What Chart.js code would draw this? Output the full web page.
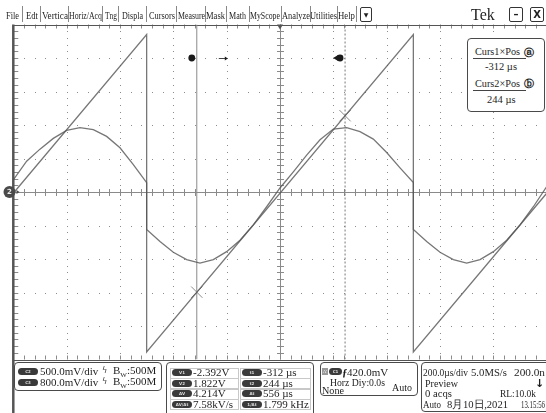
<!DOCTYPE html>
<html>
<head>
<meta charset="utf-8">
<script src="https://cdn.jsdelivr.net/npm/chart.js@4.4.1/dist/chart.umd.min.js"></script>
<style>
html, body { margin: 0; padding: 0; background: #fff; }
body { width: 546px; height: 413px; overflow: hidden; position: relative;
       font-family: "Liberation Serif", "DejaVu Serif", serif; color: #1e1e1e; }
#wrap { position: absolute; left: 0; top: 0; width: 560px; height: 413px; }
.t { position: absolute; white-space: nowrap; line-height: 1; font-size: 11px; transform-origin: 0 50%; }
.sep { position: absolute; top: 6px; width: 1px; height: 16px; background: #888; }
.box { position: absolute; border: 1px solid #4a4a4a; border-radius: 4px; background: #fff; }
.cell { position: absolute; border: 1px solid #c8c8c8; }
.badge { position: absolute; height: 7px; border-radius: 4px; background: #3a3a3a; color: #ddd;
         font: bold 4px "DejaVu Sans", sans-serif; text-align: center; line-height: 7px; }
.btn { position: absolute; top: 7px; height: 13px; border: 1px solid #333; border-radius: 2px;
       font: bold 10px "DejaVu Sans", sans-serif; text-align: center; line-height: 13px; }
.hr { position: absolute; height: 1px; background: #444; }
</style>
</head>
<body>
<div id="wrap"><canvas id="scope" width="560" height="413"></canvas></div>
<div id="ui"></div>
<script>
// ---------- data ----------
// time in microseconds, 200 us/div, 10 divisions
const timeRange = [-1000, 1000];
// C3 sawtooth (800 mV/div), volts
const sawTime = [-1000, -500, -500, 500, 500, 1000];
const sawVolt = [-0.03, 3.76, -3.82, 3.76, -3.82, -0.03];
// C2 distorted sine (500 mV/div), volts
const sineTime = [-1000, -950, -900, -850, -800, -750, -700, -650, -600, -550, -500,
                  -500, -450, -400, -350, -300, -250, -200, -150, -100, -50,
                  0, 50, 100, 150, 200, 250, 300, 350, 400, 450, 500,
                  500, 550, 600, 650, 700, 750, 800, 850, 900, 950, 1000];
const sineVolt = [0.18, 0.46, 0.64, 0.80, 0.92, 0.96, 0.93, 0.83, 0.66, 0.41, 0.14,
                  -0.56, -0.74, -0.90, -1.01, -1.06, -1.01, -0.89, -0.72, -0.49, -0.22,
                  0.06, 0.30, 0.55, 0.78, 0.94, 0.96, 0.90, 0.79, 0.59, 0.36, 0.14,
                  -0.56, -0.74, -0.90, -1.01, -1.06, -1.01, -0.89, -0.72, -0.49, -0.22, 0.08];
// cursors
const cursorTime = [-312, 244];
const cursorVolt = [-2.392, 1.822];

const zip = (xs, ys) => xs.map((x, i) => ({ x: x, y: ys[i] }));

// ---------- graticule + markers ----------
const graticule = {
    id: 'graticule',
    beforeDatasetsDraw(chart) {
        const ctx = chart.ctx;
        const a = chart.chartArea;
        const xs = chart.scales.x;
        const w = a.right - a.left, h = a.bottom - a.top;
        const dx = w / 10, dy = h / 10;
        const cx = xs.getPixelForValue(0);
        const cy = a.top + h / 2;
        ctx.save();
        // dotted grid
        ctx.fillStyle = '#8c8c8c';
        for (let i = 1; i < 10; i++) {
            if (i === 5) continue;
            const x = a.left + i * dx;
            for (let k = 1; k < 50; k++) ctx.fillRect(Math.round(x), Math.round(a.top + k * dy / 5), 1, 1);
            const y = a.top + i * dy;
            for (let k = 1; k < 50; k++) ctx.fillRect(Math.round(a.left + k * dx / 5), Math.round(y), 1, 1);
        }
        // center crosshair with minor ticks
        ctx.strokeStyle = '#8a8a8a';
        ctx.lineWidth = 1;
        ctx.beginPath();
        ctx.moveTo(a.left, Math.round(cy) + 0.5); ctx.lineTo(a.right, Math.round(cy) + 0.5);
        ctx.moveTo(Math.round(cx) + 0.5, a.top); ctx.lineTo(Math.round(cx) + 0.5, a.bottom);
        for (let k = 1; k < 50; k++) {
            const x = Math.round(a.left + k * dx / 5) + 0.5;
            ctx.moveTo(x, cy - 3); ctx.lineTo(x, cy + 4);
            ctx.moveTo(x, a.top); ctx.lineTo(x, a.top + 4);
            ctx.moveTo(x, a.bottom); ctx.lineTo(x, a.bottom - 4);
            const y = Math.round(a.top + k * dy / 5) + 0.5;
            ctx.moveTo(cx - 3, y); ctx.lineTo(cx + 4, y);
            ctx.moveTo(a.left, y); ctx.lineTo(a.left + 5, y);
        }
        ctx.stroke();
        // frame
        ctx.strokeStyle = '#555';
        ctx.beginPath();
        ctx.moveTo(a.left, Math.round(a.top) + 0.5); ctx.lineTo(a.right, Math.round(a.top) + 0.5);
        ctx.moveTo(a.left, Math.round(a.bottom) + 0.5); ctx.lineTo(a.right, Math.round(a.bottom) + 0.5);
        ctx.stroke();
        ctx.lineWidth = 2.5;
        ctx.beginPath();
        ctx.moveTo(a.left, a.top); ctx.lineTo(a.left, 413);
        ctx.stroke();
        ctx.restore();
    },
    afterDatasetsDraw(chart) {
        const ctx = chart.ctx;
        const a = chart.chartArea;
        const xs = chart.scales.x;
        const h = a.bottom - a.top;
        const my = a.top + h / 10;
        const c1 = xs.getPixelForValue(cursorTime[0]);
        const c2 = xs.getPixelForValue(cursorTime[1]);
        ctx.save();
        ctx.fillStyle = '#1a1a1a';
        // cursor a handle + right arrow
        ctx.beginPath(); ctx.arc(c1 - 5, my, 3.4, 0, Math.PI * 2); ctx.fill();
        ctx.strokeStyle = '#444'; ctx.lineWidth = 1;
        ctx.beginPath(); ctx.moveTo(c1 + 22, my + 0.5); ctx.lineTo(c1 + 30, my + 0.5); ctx.stroke();
        ctx.beginPath(); ctx.moveTo(c1 + 31, my + 0.5); ctx.lineTo(c1 + 28, my - 1.5); ctx.lineTo(c1 + 28, my + 2.5); ctx.fill();
        // cursor b handle + left arrow
        ctx.beginPath(); ctx.arc(c2 - 5, my, 3.4, 0, Math.PI * 2); ctx.fill();
        ctx.beginPath(); ctx.moveTo(c2 - 12, my); ctx.lineTo(c2 - 7, my - 3); ctx.lineTo(c2 - 7, my + 3); ctx.fill();
        // trigger position marker
        const cx = xs.getPixelForValue(0);
        ctx.fillStyle = '#555';
        ctx.beginPath(); ctx.moveTo(cx - 3, a.top); ctx.lineTo(cx + 3, a.top); ctx.lineTo(cx, a.top + 5); ctx.fill();
        // channel 2 ground marker
        const cy = a.top + h / 2;
        ctx.fillStyle = '#4a4a4a';
        ctx.beginPath(); ctx.arc(9.5, cy, 6, 0, Math.PI * 2); ctx.fill();
        ctx.beginPath(); ctx.moveTo(16.5, cy - 2); ctx.lineTo(19.5, cy); ctx.lineTo(16.5, cy + 2); ctx.fill();
        ctx.fillStyle = '#eee';
        ctx.font = 'bold 7px "DejaVu Sans"';
        ctx.textAlign = 'center'; ctx.textBaseline = 'middle';
        ctx.fillText('2', 9.5, cy + 0.5);
        ctx.restore();
    }
};

const traceColor = 'rgba(85,85,85,0.8)';

new Chart(document.getElementById('scope'), {
    type: 'scatter',
    data: {
        datasets: [
            { data: zip(sineTime, sineVolt), yAxisID: 'yC2', showLine: true, pointRadius: 0,
              borderColor: traceColor, borderWidth: 1.3 },
            { data: zip(sawTime, sawVolt), yAxisID: 'yC3', showLine: true, pointRadius: 0,
              borderColor: traceColor, borderWidth: 1.3 },
            { data: [{ x: cursorTime[0], y: -4 }, { x: cursorTime[0], y: 4 }], yAxisID: 'yC3',
              showLine: true, pointRadius: 0, borderColor: '#8a8a8a', borderWidth: 1 },
            { data: [{ x: cursorTime[1], y: -4 }, { x: cursorTime[1], y: 4 }], yAxisID: 'yC3',
              showLine: true, pointRadius: 0, borderColor: '#777', borderWidth: 1, borderDash: [2, 2] },
            { data: zip(cursorTime, cursorVolt), yAxisID: 'yC3', showLine: false,
              pointStyle: 'crossRot', pointRadius: 8, borderColor: '#8a8a8a', borderWidth: 1 }
        ]
    },
    options: {
        responsive: false,
        animation: false,
        events: [],
        layout: { padding: { left: 13.3, right: 13.3, top: 24.5, bottom: 53.5 } },
        plugins: { legend: { display: false }, tooltip: { enabled: false } },
        scales: {
            x: { type: 'linear', min: timeRange[0], max: timeRange[1], display: false },
            yC2: { type: 'linear', min: -2.5, max: 2.5, display: false },
            yC3: { type: 'linear', min: -4, max: 4, display: false }
        }
    },
    plugins: [graticule]
});

// ---------- text panels ----------
const ui = document.getElementById('ui');
function el(cls, css, html) {
    const d = document.createElement('div');
    d.className = cls;
    Object.assign(d.style, css);
    if (html !== undefined) d.innerHTML = html;
    ui.appendChild(d);
    return d;
}
// text placed by left edge and vertical center, optionally squeezed to a width
function txt(s, left, cy, size, width, extra) {
    const d = el('t', Object.assign({ left: left + 'px', top: (cy - size / 2) + 'px', fontSize: size + 'px' }, extra || {}), s);
    if (width) {
        const real = d.getBoundingClientRect().width;
        if (real > 0) d.style.transform = 'scaleX(' + (width / real) + ')';
    }
    return d;
}

// menu bar
const menuItems = ['File', 'Edt', 'Vertica', 'Horiz/Acq', 'Tng', 'Displa', 'Cursors', 'Measure',
                   'Mask', 'Math', 'MyScope', 'Analyze', 'Utilities', 'Help'];
const menuLeft  = [6, 26, 41.5, 68.5, 105, 122, 149, 177.5, 206, 228.5, 250, 281.5, 310, 338];
const menuWidth = [13, 12, 26, 33, 12, 21, 26, 27, 19, 17, 30, 28, 27, 17];
const menuSeps  = [22, 40, 67.5, 102, 118, 145.5, 175.5, 205, 226, 248.5, 280.5, 309.5, 337, 356];
menuItems.forEach((m, i) => txt(m, menuLeft[i], 15, 11, menuWidth[i]));
menuSeps.forEach(x => el('sep', { left: x + 'px' }));
el('btn', { left: '360px', width: '10px', fontSize: '6px' }, '▼');
txt('Tek', 471, 15, 16);
el('btn', { left: '509px', width: '12px' }, '–');
el('btn', { left: '530px', width: '12px' }, 'X');

// cursor readout box (top right)
el('box', { left: '467px', top: '38px', width: '76px', height: '72px' });
txt('Curs1×Pos', 475, 52.5, 10.5, 45);
txt('ⓐ', 524, 52.5, 10, null, { fontFamily: '"DejaVu Sans"', fontWeight: 'bold' });
el('hr', { left: '473px', top: '58px', width: '53px' });
txt('-312 µs', 485, 67, 10.5);
txt('Curs2×Pos', 475, 84, 10.5, 45);
txt('ⓑ', 524, 84, 10, null, { fontFamily: '"DejaVu Sans"', fontWeight: 'bold' });
el('hr', { left: '473px', top: '90px', width: '53px' });
txt('244 µs', 487, 100.5, 10.5);

// vertical settings box
el('box', { left: '14px', top: '362px', width: '146px', height: '27px' });
const chNames = ['C2', 'C3'];
const chScale = ['500.0mV/div', '800.0mV/div'];
const chRows  = [371, 382];
chNames.forEach((c, i) => {
    el('badge', { left: '18px', top: (chRows[i] - 3.5) + 'px', width: '20px' }, c);
    txt(chScale[i], 40, chRows[i], 11);
    txt('ϟ', 102, chRows[i], 8, null, { fontFamily: '"DejaVu Sans"', color: '#444' });
    txt('B<sub style="font-size:7px">W</sub>:500M', 113, chRows[i] - 1, 11);
});

// cursor readout table
el('box', { left: '166px', top: '362px', width: '146px', height: '60px' });
const readLabels1 = ['V1', 'V2', 'ΔV', 'ΔV/Δt'];
const readValues1 = ['-2.392V', '1.822V', '4.214V', '7.58kV/s'];
const readLabels2 = ['t1', 't2', 'Δt', '1/Δt'];
const readValues2 = ['-312 µs', '244 µs', '556 µs', '1.799 kHz'];
const readRows = [372.5, 383, 393.5, 404];
readRows.forEach((y, i) => {
    el('cell', { left: '170px', top: (y - 5) + 'px', width: '67px', height: '9px' });
    el('cell', { left: '240px', top: (y - 5) + 'px', width: '69px', height: '9px' });
    el('badge', { left: '172px', top: (y - 3.5) + 'px', width: '20px' }, readLabels1[i]);
    el('badge', { left: '242px', top: (y - 3.5) + 'px', width: '20px' }, readLabels2[i]);
    txt(readValues1[i], 193, y, 11);
    txt(readValues2[i], 263, y, 11);
});

// trigger box
el('box', { left: '320px', top: '362px', width: '96px', height: '32px' });
el('t', { left: '322px', top: '368px', width: '6px', height: '7px', background: '#999', color: '#fff',
          fontSize: '5px', lineHeight: '7px', textAlign: 'center' }, "A'");
el('badge', { left: '329px', top: '368px', width: '13px' }, 'C1');
txt('ƒ', 342, 372, 11, null, { fontWeight: 'bold' });
txt('420.0mV', 347, 372, 11);
txt('Horz Diy:0.0s', 330, 382, 11, 55);
txt('Auto', 392, 387, 11, 20);
txt('None', 322, 390.5, 11, 22);

// acquisition box
el('box', { left: '421px', top: '362px', width: '135px', height: '48px' });
txt('200.0µs/div', 423, 372.5, 11, 45);
txt('5.0MS/s', 471, 372.5, 11, 36);
txt('200.0n', 514, 372.5, 11, 31);
txt('Preview', 425, 383, 11, 33);
txt('↓', 535, 383, 11, null, { fontFamily: '"DejaVu Sans"', fontWeight: 'bold' });
txt('0 acqs', 425, 393.5, 11, 27);
txt('RL:10.0k', 500, 393.5, 11, 36);
txt('Auto', 423, 404, 11, 18);
txt('8月10日,2021', 447, 404, 11, 61);
txt('13.15:56', 521, 404, 11, 24);
</script>
</body>
</html>
